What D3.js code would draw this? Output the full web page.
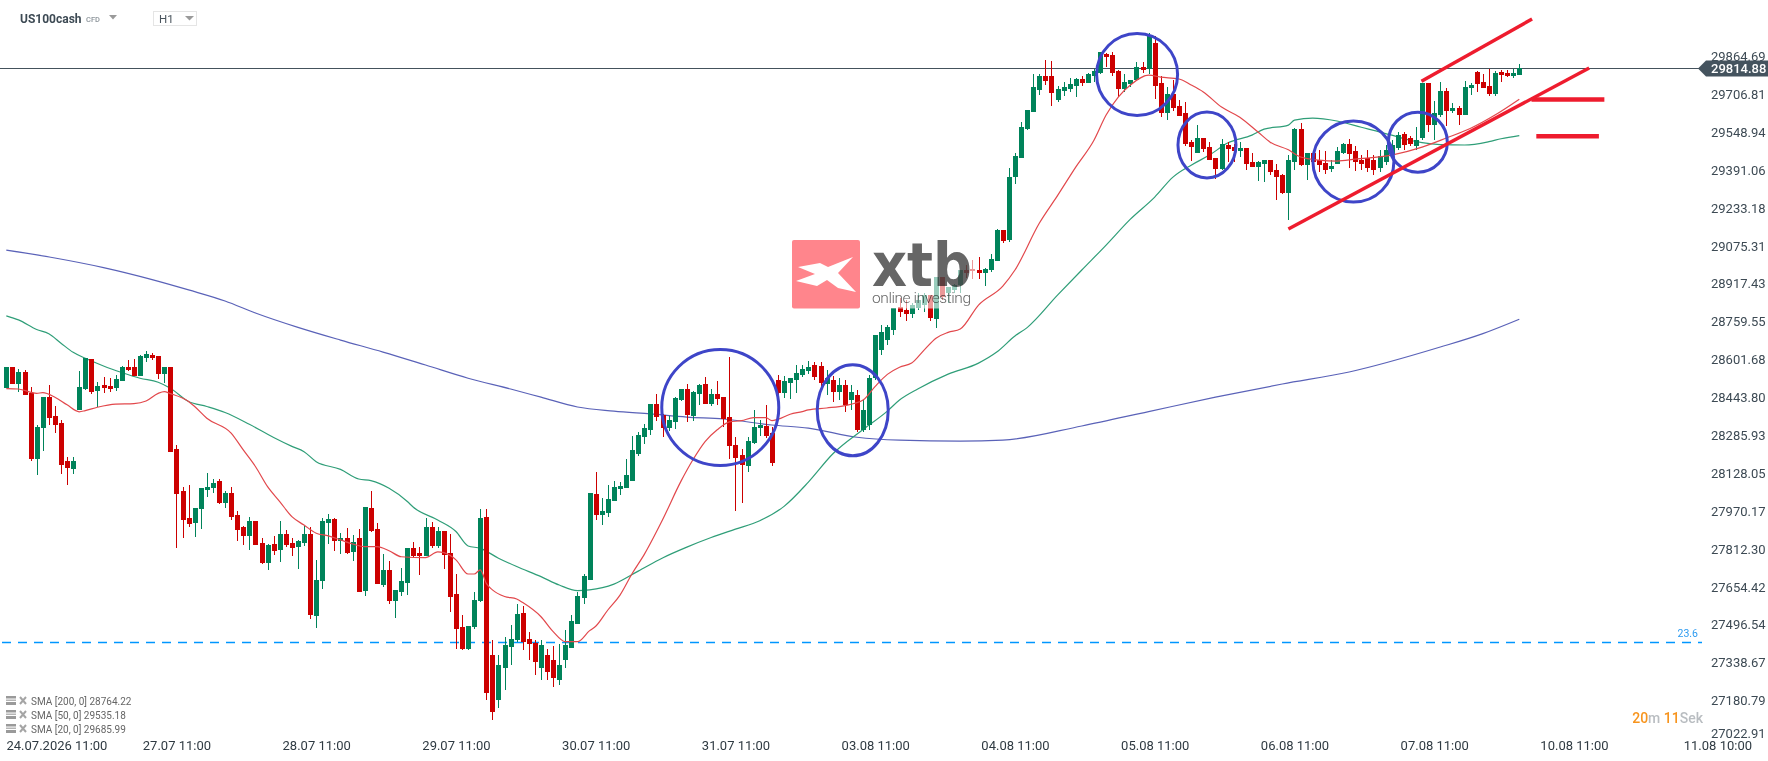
<!DOCTYPE html>
<html>
<head>
<meta charset="utf-8">
<script src="https://d3js.org/d3.v7.min.js"></script>
<style>
html, body { margin: 0; padding: 0; background: #fff; }
svg { display: block; font-family: Roboto, sans-serif; }
</style>
</head>
<body>
<script>
var svgWidth = 1768;
var svgHeight = 761;

var openS = [
28484,28571,28500,28550,28464,28188,28317,28446,28367,28338,
28179,28146,28392,28479,28604,28471,28496,28492,28484,28513,
28571,28571,28534,28609,28621,28617,28542,28571,28229,28054,
27942,27921,27979,28059,28067,28096,28004,28046,27954,27904,
27867,27929,27838,27754,27834,27809,27875,27838,27821,27837,
27875,27533,27679,27921,27937,27846,27858,27800,27858,27637,
27983,27896,27662,27725,27596,27633,27671,27817,27796,27783,
27904,27825,27887,27796,27625,27487,27396,27487,27596,27946,
27370,27182,27316,27403,27432,27545,27437,27420,27316,27370,
27349,27266,27349,27399,27499,27608,27683,28042,27954,27963,
28013,28063,28067,28096,28209,28279,28309,28417,28371,28317,
28342,28434,28479,28367,28459,28500,28417,28459,28446,28363,
28246,28204,28159,28254,28317,28325,28296,28517,28463,28504,
28517,28538,28554,28579,28575,28499,28516,28466,28495,28433,
28454,28308,28329,28524,28641,28683,28725,28820,28808,28791,
28816,28829,28870,28770,28945,28879,28891,28912,28975,28979,
28975,28962,28975,29012,29141,29100,29362,29441,29562,29633,
29725,29783,29783,29683,29721,29729,29742,29771,29754,29783,
29796,29875,29871,29804,29729,29750,29767,29821,29812,29921,
29754,29629,29708,29658,29629,29508,29462,29525,29487,29441,
29396,29496,29487,29471,29483,29425,29404,29416,29433,29391,
29371,29296,29425,29562,29412,29462,29433,29421,29396,29416,
29462,29500,29471,29433,29441,29433,29400,29425,29454,29483,
29541,29525,29491,29525,29754,29579,29621,29721,29637,29650,
29621,29733,29800,29758,29742,29708,29800,29796,29783,29787];

var closeS = [
28571,28500,28550,28454,28188,28322,28446,28359,28329,28163,
28150,28179,28488,28610,28467,28492,28484,28479,28521,28571,
28559,28534,28617,28625,28609,28542,28571,28217,28042,27934,
27917,27984,28067,28071,28088,28004,28046,27946,27892,27867,
27929,27829,27754,27829,27804,27875,27829,27817,27846,27875,
27537,27683,27929,27937,27846,27858,27796,27842,27633,27987,
27887,27667,27725,27596,27642,27679,27817,27783,27783,27904,
27825,27887,27787,27612,27479,27396,27492,27600,27942,27212,
27132,27328,27412,27437,27541,27424,27416,27341,27412,27299,
27274,27328,27412,27512,27616,27699,28045,27954,27971,28021,
28071,28075,28121,28225,28288,28317,28417,28363,28317,28350,
28442,28479,28371,28467,28496,28417,28459,28438,28354,28242,
28192,28163,28263,28321,28329,28284,28171,28463,28513,28525,
28546,28563,28571,28529,28504,28524,28466,28495,28412,28466,
28308,28391,28524,28704,28716,28737,28816,28800,28791,28829,
28850,28870,28775,28945,28862,28904,28912,28975,28962,28970,
28962,28979,29020,29141,29096,29362,29450,29571,29642,29737,
29783,29762,29712,29729,29737,29750,29771,29754,29792,29804,
29883,29862,29796,29729,29758,29767,29821,29808,29954,29742,
29629,29708,29650,29617,29500,29487,29525,29479,29433,29396,
29500,29479,29471,29483,29416,29404,29425,29433,29383,29362,
29296,29433,29562,29412,29462,29425,29412,29391,29408,29471,
29500,29458,29425,29416,29400,29391,29450,29475,29496,29537,
29496,29500,29516,29754,29579,29629,29721,29637,29650,29621,
29737,29746,29750,29733,29708,29796,29787,29783,29796,29815];

var highS = [
28571,28571,28563,28559,28488,28327,28446,28496,28409,28350,
28196,28196,28554,28610,28604,28509,28529,28525,28538,28575,
28600,28604,28621,28638,28629,28617,28571,28571,28246,28071,
28079,27984,28067,28129,28104,28104,28054,28071,27971,27909,
27946,27929,27859,27834,27867,27929,27892,27859,27850,27908,
27904,27767,27942,27958,27942,27879,27900,27871,27896,27987,
28054,27921,27792,27762,27642,27733,27817,27842,27821,27942,
27925,27904,27887,27875,27708,27537,27492,27633,27979,27979,
27432,27370,27445,27495,27583,27574,27466,27432,27432,27395,
27407,27416,27474,27537,27633,27708,28045,28134,28025,28079,
28096,28092,28188,28284,28300,28334,28417,28459,28375,28367,
28446,28479,28500,28471,28500,28529,28479,28513,28446,28613,
28279,28229,28279,28392,28350,28413,28321,28538,28534,28525,
28579,28579,28596,28591,28591,28558,28533,28524,28516,28495,
28474,28433,28537,28704,28745,28745,28816,28858,28850,28837,
28879,28879,28870,28945,28945,28904,28916,28975,28995,29016,
29029,28983,29041,29146,29141,29400,29462,29591,29642,29792,
29792,29850,29846,29742,29758,29775,29775,29783,29796,29812,
29883,29879,29883,29808,29792,29767,29842,29842,29962,29950,
29783,29737,29767,29683,29675,29516,29579,29525,29508,29441,
29521,29508,29500,29508,29483,29462,29429,29433,29433,29416,
29375,29454,29566,29587,29462,29462,29475,29471,29433,29487,
29504,29521,29491,29454,29475,29454,29475,29496,29516,29550,
29550,29533,29571,29754,29754,29679,29758,29733,29671,29658,
29762,29754,29804,29792,29812,29804,29808,29808,29812,29833];

var lowS = [
28484,28500,28467,28454,28179,28121,28221,28329,28296,28125,
28079,28125,28392,28475,28459,28406,28463,28467,28471,28513,
28554,28534,28534,28592,28600,28521,28504,28217,27817,27859,
27904,27863,27896,28029,28046,28000,27984,27934,27846,27829,
27809,27829,27750,27725,27788,27759,27821,27784,27729,27825,
27521,27483,27646,27833,27804,27792,27792,27762,27633,27617,
27883,27667,27654,27583,27525,27617,27621,27775,27704,27783,
27817,27817,27729,27550,27396,27392,27392,27479,27592,27182,
27099,27149,27224,27328,27424,27391,27349,27287,27266,27266,
27237,27245,27316,27399,27499,27583,27683,27933,27912,27946,
28013,28038,28067,28096,28200,28250,28288,28346,28279,28304,
28313,28429,28342,28346,28413,28417,28409,28413,28321,28188,
27971,28004,28134,28250,28284,28275,28159,28442,28442,28438,
28463,28529,28542,28516,28483,28454,28424,28433,28383,28391,
28299,28299,28308,28516,28620,28662,28704,28779,28762,28775,
28808,28800,28762,28733,28850,28837,28879,28879,28941,28937,
28937,28908,28966,29012,29087,29091,29333,29441,29558,29633,
29704,29746,29658,29675,29700,29717,29696,29742,29754,29758,
29792,29821,29783,29696,29717,29737,29762,29796,29792,29687,
29612,29600,29637,29617,29491,29429,29462,29466,29433,29354,
29391,29425,29425,29446,29391,29404,29346,29341,29371,29266,
29291,29183,29391,29408,29350,29391,29383,29375,29383,29416,
29458,29400,29387,29391,29383,29371,29383,29412,29441,29475,
29475,29491,29475,29516,29550,29516,29612,29575,29629,29579,
29621,29704,29717,29733,29700,29700,29758,29779,29775,29787];

// moving averages, bar number + price
var sma20Bars = [0,2,5,6,8,10,12,13,15,18,21,23,25,26,27,30,31,33,37,39,41,43,45,47,49,51,53,55,57,59,61,63,65,69,71,72,74,76,77,78,79,80,82,84,85,88,90,92,94,96,97,99,101,103,105,108,111,113,115,117,119,121,123,125,126,127,129,131,132,135,138,141,143,145,147,149,151,153,155,157,160,164,166,170,173,176,179,181,183,185,188,190,193,195,197,200,203,206,208,211,213,216,219,222,228,233,237,241,245,249];
var sma20Vals = [28481,28479,28461,28464,28445,28413,28384,28389,28403,28416,28418,28429,28461,28468,28460,28427,28406,28357,28295,28225,28156,28072,28010,27947,27912,27878,27867,27850,27833,27822,27822,27805,27780,27776,27800,27797,27767,27708,27708,27725,27669,27642,27614,27604,27589,27530,27468,27426,27426,27472,27490,27558,27620,27710,27790,27934,28093,28184,28260,28309,28342,28347,28360,28360,28347,28353,28374,28385,28392,28400,28410,28433,28490,28540,28570,28587,28640,28691,28715,28729,28829,28908,28975,29170,29285,29404,29516,29621,29696,29746,29787,29779,29771,29746,29717,29654,29612,29550,29508,29476,29446,29433,29429,29437,29454,29487,29525,29566,29621,29687];

var sma50Bars = [0,2,5,7,9,11,13,16,19,22,25,27,30,33,36,40,44,47,49,51,55,58,60,63,66,67,71,74,76,78,81,84,88,91,94,96,100,104,108,112,116,120,124,128,132,136,141,145,147,150,155,160,163,166,168,173,177,181,185,189,192,195,198,201,205,207,211,212,215,219,223,228,231,233,236,240,244,246,249];
var sma50Vals = [28784,28767,28727,28709,28670,28632,28607,28575,28548,28524,28507,28482,28427,28406,28381,28332,28277,28240,28218,28176,28144,28104,28097,28065,28010,27986,27933,27885,27825,27815,27774,27739,27697,27662,27639,27642,27666,27720,27775,27820,27860,27895,27930,27990,28091,28208,28310,28387,28433,28479,28541,28587,28633,28700,28735,28870,28975,29079,29187,29279,29362,29412,29454,29504,29537,29562,29579,29600,29608,29596,29570,29537,29516,29506,29498,29496,29510,29522,29535];

var sma200Bars = [0,8,16,24,30,36,41,48,55,62,69,76,83,88,94,100,106,112,118,126,132,140,147,157,164,177,188,199,210,221,236,243,249];
var sma200Vals = [29058,29025,28985,28935,28892,28846,28796,28736,28683,28633,28579,28524,28479,28445,28404,28387,28375,28362,28354,28329,28316,28278,28266,28262,28266,28325,28385,28445,28500,28550,28654,28710,28770];

var priceTicks = [29864.69,29706.81,29548.94,29391.06,29233.18,29075.31,28917.43,28759.55,28601.68,28443.80,28285.93,28128.05,27970.17,27812.30,27654.42,27496.54,27338.67,27180.79,27022.91];
var timeTickBars = [5,28,51,74,97,120,143,166,189,212,235,258,281.6];
var timeTickLabels = ["24.07.2026 11:00","27.07 11:00","28.07 11:00","29.07 11:00","30.07 11:00","31.07 11:00","03.08 11:00","04.08 11:00","05.08 11:00","06.08 11:00","07.08 11:00","10.08 11:00","11.08 10:00"];
var lastPrice = 29814.88;
var fibPrice = 27423;
var fibLabel = "23.6";
var smaLabels = ["SMA [200, 0] 28764.22","SMA [50, 0] 29535.18","SMA [20, 0] 29685.99"];

// hand drawn markup, bar number + price
var ringBars = [117.5,139.3,186.1,197.6,221.7,232.3];
var ringPrices = [28402,28390,29790,29496,29427,29508];
var ringRx = [58.5,35.5,40.5,29,40.5,29.5];
var ringRy = [58,45.5,41,33,40.5,30];
var trendBars = [[232.9,251.1],[211,260.5],[251,263],[251.8,262.1]];
var trendPrices = [[29762,30021],[29146,29817],[29686,29686],[29533,29533]];
var trendWidths = [3.5,3.5,4.5,4.5];

var x = d3.scaleLinear().domain([0, 249]).range([6.3, 1519.3]);
var y = d3.scaleLinear().domain([lastPrice, 27180.79]).range([68.5, 700.5]);

var svg = d3.select("body")
	.append("svg")
	.attr("width", svgWidth)
	.attr("height", svgHeight);

svg.append("rect")
	.attr("width", svgWidth)
	.attr("height", svgHeight)
	.attr("fill", "#fff");

var plot = svg.append("g").attr("clip-path", "url(#plotClip)");
svg.append("clipPath").attr("id", "plotClip")
	.append("rect").attr("width", 1702).attr("height", 700 + 61);

// fib level
plot.append("line")
	.attr("x1", 2).attr("x2", 1702)
	.attr("y1", y(fibPrice)).attr("y2", y(fibPrice))
	.attr("stroke", "#0096ff")
	.attr("stroke-width", 1.5)
	.attr("stroke-dasharray", "9 7");

// last price line
plot.append("line")
	.attr("x1", 0).attr("x2", 1700)
	.attr("y1", y(lastPrice)).attr("y2", y(lastPrice))
	.attr("stroke", "#44525c")
	.attr("stroke-width", 1.2);

// moving averages
function drawSma(bars, vals, color) {
	var line = d3.line()
		.x(function(d) { return x(d); })
		.y(function(d, i) { return y(vals[i]); })
		.curve(d3.curveMonotoneX);
	plot.append("path")
		.attr("d", line(bars))
		.attr("fill", "none")
		.attr("stroke", color)
		.attr("stroke-width", 1.2);
}
drawSma(sma200Bars, sma200Vals, "#5a62b8");
drawSma(sma50Bars, sma50Vals, "#2f9e78");

// candles
var bars = d3.range(openS.length);
function candleColor(i) { return closeS[i] >= openS[i] ? "#00835a" : "#cc0000"; }

plot.append("g").selectAll("rect")
	.data(bars)
	.enter()
	.append("rect")
	.attr("x", function(i) { return Math.round(x(i)) - 0.5; })
	.attr("width", 1)
	.attr("y", function(i) { return y(highS[i]); })
	.attr("height", function(i) { return y(lowS[i]) - y(highS[i]); })
	.attr("fill", candleColor)
	.attr("shape-rendering", "crispEdges");

plot.append("g").selectAll("rect")
	.data(bars)
	.enter()
	.append("rect")
	.attr("x", function(i) { return Math.round(x(i)) - 2.5; })
	.attr("width", 5)
	.attr("y", function(i) { return y(Math.max(openS[i], closeS[i])); })
	.attr("height", function(i) { return Math.max(1, Math.abs(y(openS[i]) - y(closeS[i]))); })
	.attr("fill", candleColor)
	.attr("shape-rendering", "crispEdges");

drawSma(sma20Bars, sma20Vals, "#e2484c");

// rings and trend lines
plot.append("g").selectAll("ellipse")
	.data(ringBars)
	.enter()
	.append("ellipse")
	.attr("cx", function(d) { return x(d); })
	.attr("cy", function(d, i) { return y(ringPrices[i]); })
	.attr("rx", function(d, i) { return ringRx[i]; })
	.attr("ry", function(d, i) { return ringRy[i]; })
	.attr("fill", "none")
	.attr("stroke", "#3e45c8")
	.attr("stroke-width", 3);

plot.append("g").selectAll("line")
	.data(trendBars)
	.enter()
	.append("line")
	.attr("x1", function(d) { return x(d[0]); })
	.attr("x2", function(d) { return x(d[1]); })
	.attr("y1", function(d, i) { return y(trendPrices[i][0]); })
	.attr("y2", function(d, i) { return y(trendPrices[i][1]); })
	.attr("stroke", "#ee1c2e")
	.attr("stroke-width", function(d, i) { return trendWidths[i]; });

// watermark
var logo = svg.append("g");
logo.append("rect")
	.attr("x", 792).attr("y", 240).attr("width", 183).attr("height", 68.5)
	.attr("fill", "#fff").attr("opacity", 0.6);
logo.append("rect")
	.attr("x", 792).attr("y", 240).attr("width", 68).attr("height", 68.5).attr("rx", 2)
	.attr("fill", "#ff858c");
logo.append("polygon")
	.attr("points", "798,267 820,263 828,267 853,257 838,273 856,292 838,288 827,280 817,286 796,281 815,274")
	.attr("fill", "#fff");
logo.append("text")
	.attr("x", 872).attr("y", 286)
	.attr("font-family", "'DejaVu Sans', sans-serif")
	.attr("font-size", 60).attr("font-weight", 700)
	.attr("textLength", 100).attr("lengthAdjust", "spacingAndGlyphs")
	.attr("fill", "#666")
	.style("mix-blend-mode", "multiply")
	.text("xtb");
logo.append("text")
	.attr("x", 872).attr("y", 303)
	.attr("font-size", 15.5).attr("font-weight", 300)
	.attr("textLength", 99)
	.attr("fill", "#666")
	.style("mix-blend-mode", "multiply")
	.text("online investing");

// price axis
var yAxis = d3.axisRight(y).tickValues(priceTicks).tickSize(0).tickPadding(0)
	.tickFormat(d3.format(".2f"));
var yG = svg.append("g").attr("transform", "translate(1711,0)").call(yAxis);
yG.select(".domain").remove();
yG.selectAll("text")
	.attr("font-family", "Roboto, sans-serif")
	.attr("font-size", 13)
	.attr("fill", "#3d4a54")
	.attr("dy", function(d) { return d < 27100 ? "-0.1em" : "0.32em"; });

// last price tag
svg.append("polygon")
	.attr("points", "1698,68.5 1706,60.5 1768,60.5 1768,76.5 1706,76.5")
	.attr("fill", "#44535e");
svg.append("text")
	.attr("x", 1711).attr("y", y(lastPrice) + 4.5)
	.attr("font-size", 13).attr("font-weight", 500)
	.attr("fill", "#fff")
	.text(d3.format(".2f")(lastPrice));

// fib label
svg.append("text")
	.attr("x", 1698).attr("y", 637)
	.attr("text-anchor", "end")
	.attr("font-size", 10.5)
	.attr("fill", "#2d9bf0")
	.text(fibLabel);

// time axis
var xAxis = d3.axisBottom(x).tickValues(timeTickBars).tickSize(0).tickPadding(0)
	.tickFormat(function(d, i) { return timeTickLabels[i]; });
var xG = svg.append("g").attr("transform", "translate(0,741)").call(xAxis);
xG.select(".domain").remove();
xG.selectAll("text")
	.attr("font-family", "Roboto, sans-serif")
	.attr("font-size", 13)
	.attr("fill", "#2f3a42")
	.attr("dy", "0.71em");
xG.selectAll(".tick").filter(function(d, i) { return i == 0; })
	.select("text")
	.attr("text-anchor", "start")
	.attr("x", 6 - x(timeTickBars[0]));

// candle countdown
var timer = svg.append("text")
	.attr("x", 1703).attr("y", 723)
	.attr("text-anchor", "end")
	.attr("font-size", 14).attr("font-weight", 500);
timer.append("tspan").attr("fill", "#f7941d").text("20");
timer.append("tspan").attr("fill", "#b9bdc1").text("m ");
timer.append("tspan").attr("fill", "#f7941d").text("11");
timer.append("tspan").attr("fill", "#b9bdc1").text("Sek");

// SMA legend
var legend = svg.append("g").selectAll("g")
	.data(smaLabels)
	.enter()
	.append("g")
	.attr("transform", function(d, i) { return "translate(0," + (701 + i * 14) + ")"; });
legend.append("rect").attr("x", 6).attr("y", -5).attr("width", 10).attr("height", 2.5).attr("fill", "#9a9a9a");
legend.append("rect").attr("x", 6).attr("y", -1.5).attr("width", 10).attr("height", 1.5).attr("fill", "#b5b5b5");
legend.append("rect").attr("x", 6).attr("y", 1).attr("width", 10).attr("height", 3).attr("fill", "#9a9a9a");
legend.append("path")
	.attr("d", "M20,-4L26,3M26,-4L20,3")
	.attr("stroke", "#a5a5a5")
	.attr("stroke-width", 2);
legend.append("text")
	.attr("x", 31).attr("y", 4)
	.attr("font-size", 10)
	.attr("fill", "#666")
	.text(function(d) { return d; });

// header
svg.append("text")
	.attr("x", 20).attr("y", 23)
	.attr("font-size", 12).attr("font-weight", 700)
	.attr("fill", "#3d4a54")
	.text("US100cash");
svg.append("text")
	.attr("x", 86).attr("y", 22)
	.attr("font-size", 7.5).attr("font-weight", 500)
	.attr("fill", "#8d959b")
	.text("CFD");
svg.append("polygon").attr("points", "109,15 117,15 113,19.5").attr("fill", "#9a9a9a");
svg.append("rect")
	.attr("x", 153.5).attr("y", 11.5).attr("width", 43).attr("height", 14)
	.attr("fill", "#fff").attr("stroke", "#e5e5e5");
svg.append("text")
	.attr("x", 159).attr("y", 23)
	.attr("font-size", 11.5)
	.attr("fill", "#4a555d")
	.text("H1");
svg.append("polygon").attr("points", "185,16 194,16 189.5,20.5").attr("fill", "#9a9a9a");
</script>
</body>
</html>
